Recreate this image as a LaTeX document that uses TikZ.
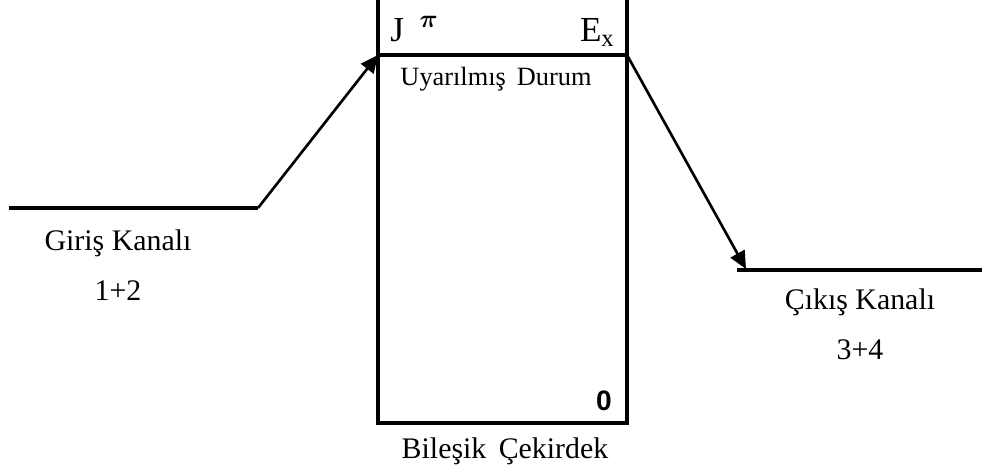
\documentclass[tikz,border=0pt]{standalone}
\usepackage{amsmath}
\usepackage{fontspec}
\setmainfont{Liberation Serif}
\newfontfamily\labsans{Liberation Sans}
\usetikzlibrary{arrows.meta, positioning}

\begin{document}
\begin{tikzpicture}[x=0.02cm, y=-0.02cm,
    level/.style={line width=2pt},
    trans/.style={line width=1.5pt, -{Triangle[length=10pt, width=9pt]}},
    lbl/.style={font=\fontsize{17}{20}\selectfont, inner sep=0pt}]
    \useasboundingbox (0,0) rectangle (982,470);

    % compound nucleus box
    \coordinate (tl) at (378,0);
    \coordinate (tr) at (627,0);
    \coordinate (ml) at (378,55);
    \coordinate (mr) at (627,55);
    \coordinate (bl) at (378,423);
    \coordinate (br) at (627,423);
    \draw[level] (tl) -- (bl) -- (br) -- (tr);
    \draw[level] (ml) -- (mr);

    % channels
    \coordinate (inA) at (9,208);
    \coordinate (inB) at (258,208);
    \coordinate (outA) at (737,270);
    \coordinate (outB) at (982,270);
    \draw[level] (inA) -- (inB);
    \draw[level] (outA) -- (outB);
    \draw[trans] (inB) -- (ml);
    \draw[trans] (mr) -- (746,269);

    \node[lbl, font=\fontsize{20}{23}\selectfont, anchor=base west] (jpi) at (390,41) {J\;\,$^{\boldsymbol{\pi}}$};
    \node[lbl, font=\fontsize{20}{23}\selectfont, anchor=base east] (ex) at (615,41) {E$_{\mathrm{x}}$};
    \node[lbl, font=\fontsize{15}{18}\selectfont] (state) at (496,79) {Uyarılmış\, Durum};
    \node[lbl, font=\labsans\bfseries\fontsize{16}{19}\selectfont] (zero) at (604,401) {0};
    \node[lbl] (cn) at (505,451) {Bileşik\, Çekirdek};
    \node[lbl] (inname) at (118,243) {Giriş Kanalı};
    \node[lbl] (innum) at (118,291) {1+2};
    \node[lbl] (outname) at (860,302) {Çıkış Kanalı};
    \node[lbl] (outnum) at (860,350) {3+4};
\end{tikzpicture}
\end{document}
